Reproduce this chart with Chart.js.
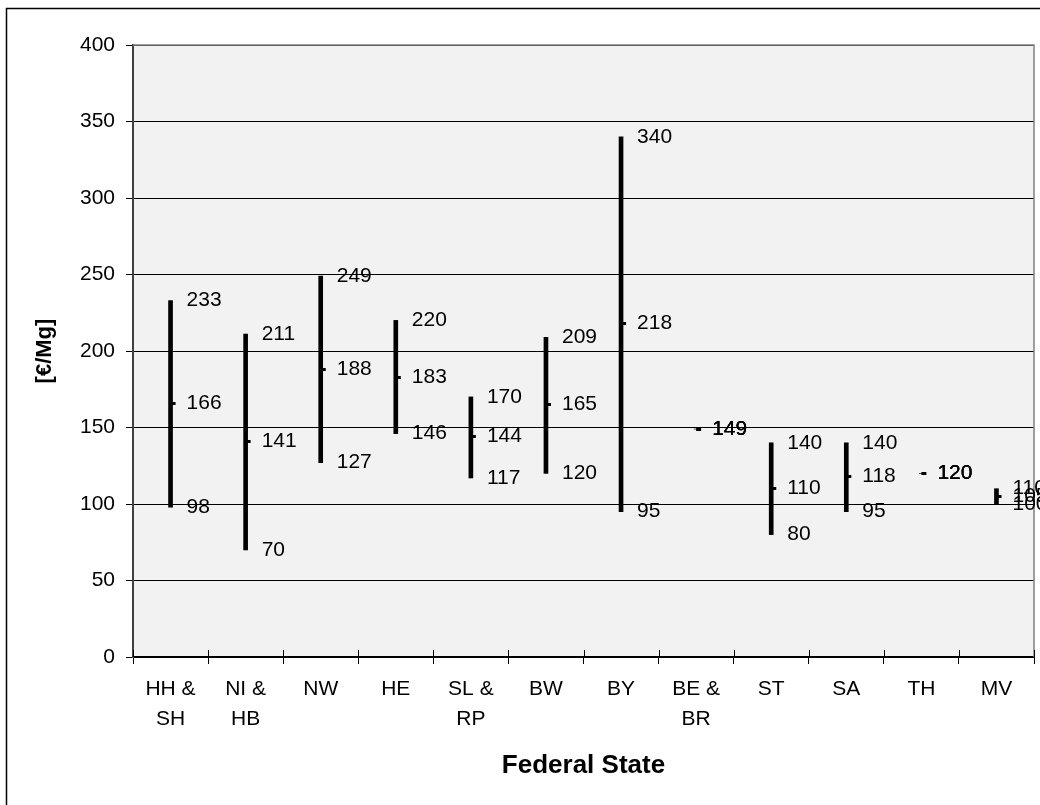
<!DOCTYPE html>
<html>
<head>
<meta charset="utf-8">
<script src="https://cdn.jsdelivr.net/npm/chart.js@4"></script>
<style>
  body { margin: 0; background: #fff; overflow: hidden; }
  canvas { display: block; }
</style>
</head>
<body>
<canvas id="myChart" width="1040" height="805"></canvas>
<script>
const states = [['HH &', 'SH'], ['NI &', 'HB'], 'NW', 'HE', ['SL &', 'RP'], 'BW', 'BY', ['BE &', 'BR'], 'ST', 'SA', 'TH', 'MV'];
const highs  = [233, 211, 249, 220, 170, 209, 340, 149, 140, 140, 120, 110];
const closes = [166, 141, 188, 183, 144, 165, 218, 149, 110, 118, 120, 105];
const lows   = [98, 70, 127, 146, 117, 120, 95, 149, 80, 95, 120, 100];
const yTicks = [0, 50, 100, 150, 200, 250, 300, 350, 400];

const FONT = '"Liberation Sans", Arial, sans-serif';

// little tick to the right of each bar for the middle value
const closeMark = document.createElement('canvas');
closeMark.width = 12;
closeMark.height = 3;
const cm = closeMark.getContext('2d');
cm.fillStyle = '#000';
cm.fillRect(6, 0, 5, 3);

const framePlugin = {
    id: 'frame',
    beforeDraw(chart) {
        const { ctx, chartArea } = chart;
        ctx.save();
        ctx.fillStyle = '#fff';
        ctx.fillRect(0, 0, chart.width, chart.height);
        ctx.strokeStyle = '#000';
        ctx.lineWidth = 1.5;
        ctx.strokeRect(6.5, 8.5, 2000, 2000);
        ctx.fillStyle = '#f2f2f2';
        ctx.fillRect(chartArea.left, chartArea.top, chartArea.right - chartArea.left, chartArea.bottom - chartArea.top);
        ctx.restore();
    },
    beforeDatasetsDraw(chart) {
        const { ctx, chartArea, scales } = chart;
        ctx.save();
        ctx.strokeStyle = '#808080';
        ctx.lineWidth = 1.5;
        ctx.beginPath();
        ctx.moveTo(chartArea.left, chartArea.top);
        ctx.lineTo(chartArea.right, chartArea.top);
        ctx.lineTo(chartArea.right, chartArea.bottom);
        ctx.stroke();
        // inner half of the crossing x ticks
        ctx.strokeStyle = '#000';
        ctx.lineWidth = 1;
        for (let i = 0; i <= states.length; i++) {
            const px = Math.round(scales.x.getPixelForValue(i - 0.5)) + 0.5;
            ctx.beginPath();
            ctx.moveTo(px, chartArea.bottom);
            ctx.lineTo(px, chartArea.bottom - 7);
            ctx.stroke();
        }
        ctx.restore();
    }
};

const labelPlugin = {
    id: 'valueLabels',
    afterDatasetsDraw(chart) {
        const { ctx, scales: { x, y } } = chart;
        ctx.save();
        ctx.font = '21px ' + FONT;
        ctx.fillStyle = '#000';
        ctx.textAlign = 'left';
        ctx.textBaseline = 'middle';
        states.forEach((s, i) => {
            const px = x.getPixelForValue(i) + 16;
            [lows[i], closes[i], highs[i]].forEach(v => {
                ctx.fillText(String(v), px, y.getPixelForValue(v));
            });
        });
        ctx.restore();
    }
};

const ctx = document.getElementById('myChart').getContext('2d');
const myChart = new Chart(ctx, {
    data: {
        labels: states,
        datasets: [{
            type: 'bar',
            data: lows.map((l, i) => [l, highs[i]]),
            backgroundColor: '#000',
            barThickness: 4,
            grouped: false,
            order: 2
        }, {
            type: 'line',
            data: closes,
            showLine: false,
            pointStyle: closeMark,
            pointRadius: 3,
            order: 1
        }]
    },
    options: {
        responsive: false,
        animation: false,
        devicePixelRatio: 1,
        layout: {
            padding: { top: 45, right: 6, left: 0, bottom: 0 }
        },
        scales: {
            x: {
                offset: true,
                grid: {
                    offset: true,
                    drawOnChartArea: false,
                    tickLength: 7,
                    color: '#000'
                },
                border: { color: '#000', width: 2 },
                ticks: {
                    color: '#000',
                    padding: 10,
                    maxRotation: 0,
                    font: { family: FONT, size: 21, lineHeight: '30px' }
                },
                title: {
                    display: true,
                    text: 'Federal State',
                    color: '#000',
                    font: { family: FONT, size: 26, weight: 'bold' },
                    padding: { top: 0, bottom: 24 }
                },
                afterFit: s => { s.height = 148; }
            },
            y: {
                min: 0,
                max: 400,
                afterBuildTicks: s => { s.ticks = yTicks.map(v => ({ value: v })); },
                grid: {
                    color: '#000',
                    tickLength: 7
                },
                border: { color: '#404040', width: 2 },
                ticks: {
                    color: '#000',
                    padding: 11,
                    font: { family: FONT, size: 21 }
                },
                title: {
                    display: true,
                    text: '[€/Mg]',
                    color: '#000',
                    font: { family: FONT, size: 22, weight: 'bold' },
                    padding: { top: 32, bottom: 0 }
                },
                afterFit: s => { s.width = 133; }
            }
        },
        plugins: {
            legend: { display: false },
            tooltip: { enabled: false }
        }
    },
    plugins: [framePlugin, labelPlugin]
});
</script>
</body>
</html>
